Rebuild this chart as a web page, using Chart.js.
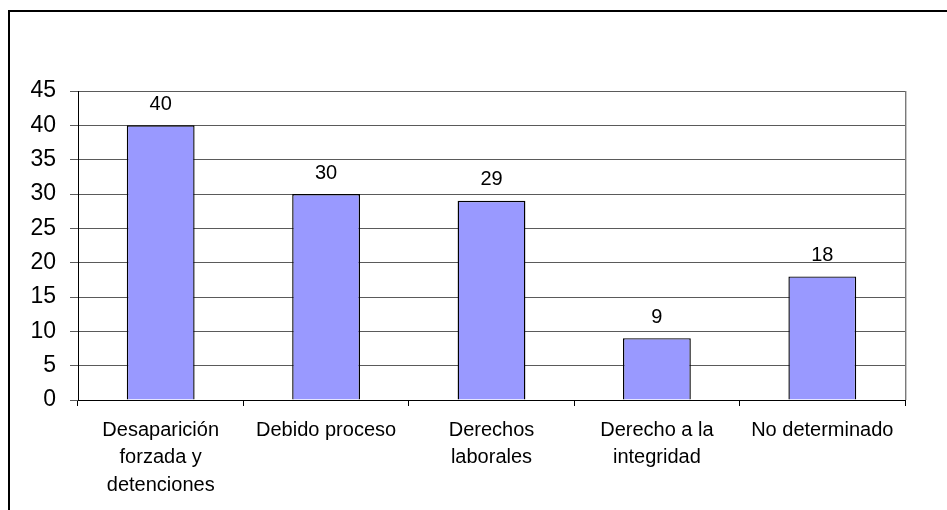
<!DOCTYPE html>
<html>
<head>
<meta charset="utf-8">
<script src="https://cdn.jsdelivr.net/npm/chart.js@4.4.1/dist/chart.umd.min.js"></script>
<style>
	html, body { margin: 0; padding: 0; background: #fff; overflow: hidden; }
	#marco {
		position: absolute; left: 8px; top: 10px; width: 1000px; height: 600px;
		border-left: 2px solid #000; border-top: 2px solid #000;
	}
	#lienzo { position: absolute; left: 0; top: 0; width: 947px; height: 510px; }
</style>
</head>
<body>
<div id="marco"></div>
<div id="lienzo"><canvas id="grafico" width="947" height="510"></canvas></div>
<script>
// categorias y valores
const categorias = [
	["Desaparición", "forzada y", "detenciones"],
	"Debido proceso",
	["Derechos", "laborales"],
	["Derecho a la", "integridad"],
	"No determinado",
];
const casos = [40, 30, 29, 9, 18];
const ejeY = { min: 0, max: 45, paso: 5 };

/* etiquetas encima de cada barra */
const etiquetasValor = {
	id: "etiquetasValor",
	afterDatasetsDraw(chart) {
		const ctx = chart.ctx;
		const meta = chart.getDatasetMeta(0);
		ctx.save();
		ctx.font = "20px Arial, 'Liberation Sans', sans-serif";
		ctx.fillStyle = "#000";
		ctx.textAlign = "center";
		ctx.textBaseline = "middle";
		meta.data.forEach((barra, i) => {
			ctx.fillText(String(casos[i]), barra.x, barra.y - 21);
		});
		ctx.restore();
	},
};

/* borde del area de trazado */
const bordeArea = {
	id: "bordeArea",
	beforeDatasetsDraw(chart) {
		const a = chart.chartArea;
		const ctx = chart.ctx;
		ctx.save();
		ctx.strokeStyle = "#c8c8c8";
		ctx.lineWidth = 1;
		ctx.beginPath();
		ctx.moveTo(a.right + 1.5, a.top);
		ctx.lineTo(a.right + 1.5, a.bottom);
		ctx.stroke();
		ctx.strokeStyle = "#7a7a7a";
		ctx.beginPath();
		ctx.moveTo(a.right + 0.5, a.top);
		ctx.lineTo(a.right + 0.5, a.bottom);
		ctx.stroke();
		ctx.restore();
	},
};

const ctx = document.getElementById("grafico").getContext("2d");

new Chart(ctx, {
	type: "bar",
	data: {
		labels: categorias,
		datasets: [
			{
				label: "Casos",
				data: casos,
				backgroundColor: "#9999ff",
				borderColor: "#000000",
				borderWidth: 1.4,
				barPercentage: 0.41,
				categoryPercentage: 1,
			},
		],
	},
	options: {
		responsive: false,
		animation: false,
		layout: {
			padding: { left: 0, top: 91, right: 42, bottom: 0 },
		},
		plugins: {
			legend: { display: false },
			tooltip: { enabled: false },
		},
		scales: {
			x: {
				offset: true,
				grid: {
					offset: true,
					drawOnChartArea: false,
					color: "#000",
					tickLength: 6,
				},
				border: { color: "#000", width: 1 },
				ticks: {
					color: "#000",
					padding: 11,
					maxRotation: 0,
					autoSkip: false,
					font: { family: "Arial, 'Liberation Sans', sans-serif", size: 20, lineHeight: 1.36 },
				},
				afterFit(escala) {
					escala.height = 110;
				},
			},
			y: {
				min: ejeY.min,
				max: ejeY.max,
				ticks: {
					stepSize: ejeY.paso,
					color: "#000",
					padding: 14,
					font: { family: "Arial, 'Liberation Sans', sans-serif", size: 23 },
				},
				grid: {
					color: "#5a5a5a",
					tickLength: 8,
				},
				border: { color: "#000", width: 1 },
				afterFit(escala) {
					escala.width = 78;
				},
			},
		},
	},
	plugins: [bordeArea, etiquetasValor],
});
</script>
</body>
</html>
